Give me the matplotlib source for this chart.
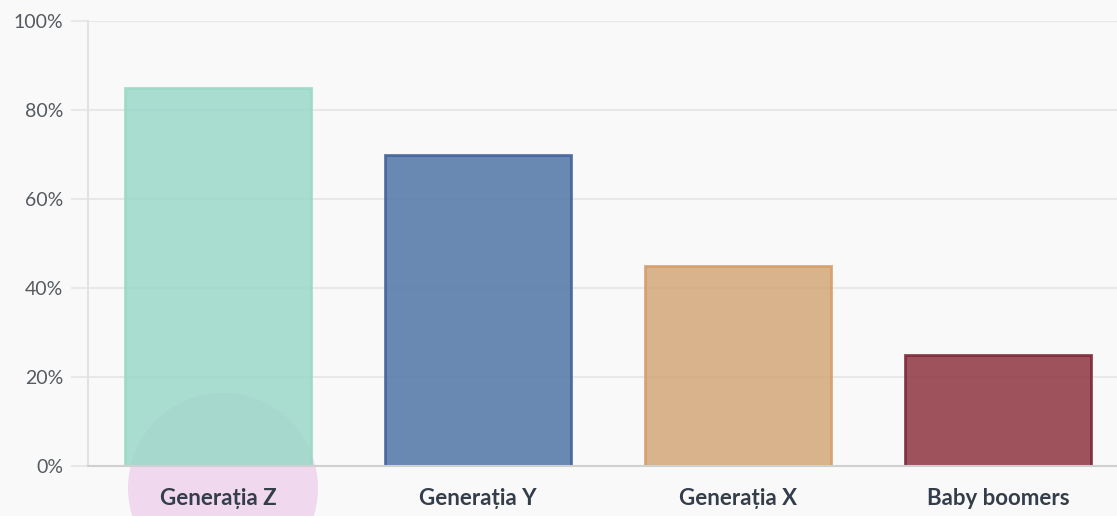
import matplotlib
matplotlib.use("Agg")
import matplotlib.pyplot as plt
from matplotlib.patches import Ellipse

plt.rcParams['font.family'] = ['Lato', 'DejaVu Sans']

# data
generations = ["Generația Z", "Generația Y", "Generația X", "Baby boomers"]
shares = [85, 70, 45, 25]
y_ticks = [0, 20, 40, 60, 80, 100]
y_tick_labels = ["0%", "20%", "40%", "60%", "80%", "100%"]

fill_colors = ["#9ad8c9", "#5176a6", "#d3a779", "#8d3541"]
edge_colors = ["#97d9c2", "#3d5e99", "#d49a66", "#7a2233"]

W, H = 1117, 516
fig = plt.figure(figsize=(W / 100, H / 100), dpi=100)
fig.patch.set_facecolor("#f9f9f9")

# axes runs a bit past the right edge, like the original
ax = fig.add_axes([88 / W, 50 / H, 1040 / W, 445 / H])
ax.set_facecolor("#f9f9f9")

x = range(len(generations))
ax.bar(x, shares, width=0.715, color=fill_colors, edgecolor=edge_colors,
       linewidth=2, alpha=0.85, zorder=2)

ax.set_xlim(-0.5, 3.5)
ax.set_ylim(0, 100)
ax.set_yticks(y_ticks)
ax.set_yticklabels(y_tick_labels)
ax.set_xticks(list(x))
ax.set_xticklabels(generations, fontweight="bold")

ax.grid(axis="y", color="#e8e8e8", linewidth=1.5)
ax.set_axisbelow(True)

for side in ["top", "right"]:
    ax.spines[side].set_visible(False)
ax.spines["left"].set_color("#e2e2e2")
ax.spines["left"].set_linewidth(1.5)
ax.spines["bottom"].set_color("#d0d0d0")
ax.spines["bottom"].set_linewidth(1.5)

ax.tick_params(axis="y", length=12, width=1.5, color="#e8e8e8", pad=6,
               labelsize=14, labelcolor="#555a60")
ax.tick_params(axis="x", length=0, pad=16, labelsize=16, labelcolor="#343d4a")

# pink highlight circle behind the first label (below axis text and bars)
circle = Ellipse((223 / W, (H - 488) / H), 190 / W, 190 / H,
                 transform=fig.transFigure, facecolor="#f0d8ef",
                 edgecolor="none", zorder=0.2, clip_on=False)
ax.add_artist(circle)

fig.savefig("out.png", dpi=100, facecolor=fig.get_facecolor())
